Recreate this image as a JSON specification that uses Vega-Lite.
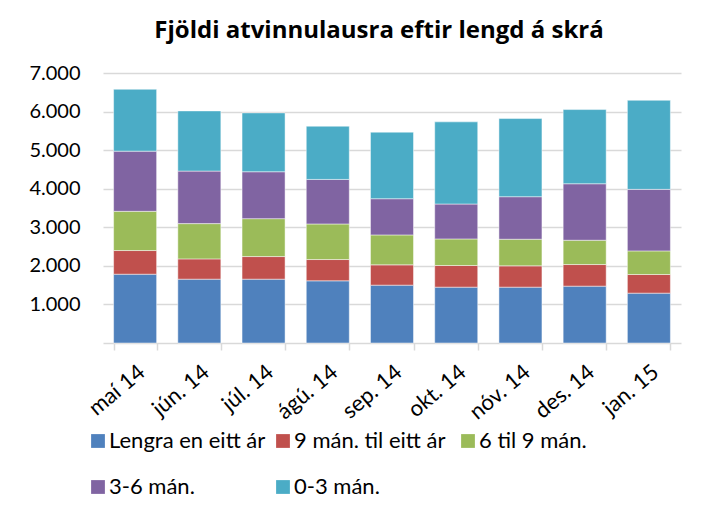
{
  "$schema": "https://vega.github.io/schema/vega-lite/v6.json",
  "width": 578,
  "height": 270,
  "autosize": {"type": "none"},
  "padding": {"left": 103, "top": 73, "right": 31, "bottom": 173},
  "background": "#ffffff",
  "config": {
    "font": "Lato",
    "view": {"stroke": null},
    "locale": {"number": {"decimal": ",", "thousands": ".", "grouping": [3], "currency": ["", " kr."]}}
  },
  "title": {
    "text": "Fjöldi atvinnulausra eftir lengd á skrá",
    "font": "Open Sans",
    "fontSize": 24,
    "fontWeight": "bold",
    "color": "#000000",
    "anchor": "middle",
    "dx": -13,
    "baseline": "alphabetic",
    "offset": 1
  },
  "data": {
    "values": [
      {"month": "maí 14", "cat": "Lengra en eitt ár", "o": 1, "value": 1784},
      {"month": "maí 14", "cat": "9 mán. til eitt ár", "o": 2, "value": 613},
      {"month": "maí 14", "cat": "6 til 9 mán.", "o": 3, "value": 1017},
      {"month": "maí 14", "cat": "3-6 mán.", "o": 4, "value": 1560},
      {"month": "maí 14", "cat": "0-3 mán.", "o": 5, "value": 1604},
      {"month": "jún. 14", "cat": "Lengra en eitt ár", "o": 1, "value": 1655},
      {"month": "jún. 14", "cat": "9 mán. til eitt ár", "o": 2, "value": 526},
      {"month": "jún. 14", "cat": "6 til 9 mán.", "o": 3, "value": 914},
      {"month": "jún. 14", "cat": "3-6 mán.", "o": 4, "value": 1362},
      {"month": "jún. 14", "cat": "0-3 mán.", "o": 5, "value": 1560},
      {"month": "júl. 14", "cat": "Lengra en eitt ár", "o": 1, "value": 1655},
      {"month": "júl. 14", "cat": "9 mán. til eitt ár", "o": 2, "value": 586},
      {"month": "júl. 14", "cat": "6 til 9 mán.", "o": 3, "value": 983},
      {"month": "júl. 14", "cat": "3-6 mán.", "o": 4, "value": 1216},
      {"month": "júl. 14", "cat": "0-3 mán.", "o": 5, "value": 1526},
      {"month": "ágú. 14", "cat": "Lengra en eitt ár", "o": 1, "value": 1612},
      {"month": "ágú. 14", "cat": "9 mán. til eitt ár", "o": 2, "value": 552},
      {"month": "ágú. 14", "cat": "6 til 9 mán.", "o": 3, "value": 922},
      {"month": "ágú. 14", "cat": "3-6 mán.", "o": 4, "value": 1155},
      {"month": "ágú. 14", "cat": "0-3 mán.", "o": 5, "value": 1380},
      {"month": "sep. 14", "cat": "Lengra en eitt ár", "o": 1, "value": 1500},
      {"month": "sep. 14", "cat": "9 mán. til eitt ár", "o": 2, "value": 526},
      {"month": "sep. 14", "cat": "6 til 9 mán.", "o": 3, "value": 776},
      {"month": "sep. 14", "cat": "3-6 mán.", "o": 4, "value": 939},
      {"month": "sep. 14", "cat": "0-3 mán.", "o": 5, "value": 1725},
      {"month": "okt. 14", "cat": "Lengra en eitt ár", "o": 1, "value": 1448},
      {"month": "okt. 14", "cat": "9 mán. til eitt ár", "o": 2, "value": 561},
      {"month": "okt. 14", "cat": "6 til 9 mán.", "o": 3, "value": 689},
      {"month": "okt. 14", "cat": "3-6 mán.", "o": 4, "value": 905},
      {"month": "okt. 14", "cat": "0-3 mán.", "o": 5, "value": 2130},
      {"month": "nóv. 14", "cat": "Lengra en eitt ár", "o": 1, "value": 1448},
      {"month": "nóv. 14", "cat": "9 mán. til eitt ár", "o": 2, "value": 552},
      {"month": "nóv. 14", "cat": "6 til 9 mán.", "o": 3, "value": 690},
      {"month": "nóv. 14", "cat": "3-6 mán.", "o": 4, "value": 1103},
      {"month": "nóv. 14", "cat": "0-3 mán.", "o": 5, "value": 2026},
      {"month": "des. 14", "cat": "Lengra en eitt ár", "o": 1, "value": 1474},
      {"month": "des. 14", "cat": "9 mán. til eitt ár", "o": 2, "value": 560},
      {"month": "des. 14", "cat": "6 til 9 mán.", "o": 3, "value": 630},
      {"month": "des. 14", "cat": "3-6 mán.", "o": 4, "value": 1465},
      {"month": "des. 14", "cat": "0-3 mán.", "o": 5, "value": 1923},
      {"month": "jan. 15", "cat": "Lengra en eitt ár", "o": 1, "value": 1293},
      {"month": "jan. 15", "cat": "9 mán. til eitt ár", "o": 2, "value": 483},
      {"month": "jan. 15", "cat": "6 til 9 mán.", "o": 3, "value": 612},
      {"month": "jan. 15", "cat": "3-6 mán.", "o": 4, "value": 1595},
      {"month": "jan. 15", "cat": "0-3 mán.", "o": 5, "value": 2310}
    ]
  },
  "mark": {"type": "bar", "stroke": "#ffffff", "strokeOpacity": 0.6, "strokeWidth": 0.8},
  "encoding": {
    "x": {
      "field": "month",
      "type": "nominal",
      "sort": null,
      "scale": {"paddingInner": 0.33, "paddingOuter": 0.165},
      "axis": {
        "title": null,
        "labelAngle": -40,
        "labelFont": "Lato",
        "labelFontSize": 22,
        "labelColor": "#000000",
        "labelPadding": 11,
        "labelDx": -4,
        "tickBand": "extent",
        "tickSize": 7,
        "tickColor": "#d9d9d9",
        "tickWidth": 1.5,
        "domainColor": "#d9d9d9",
        "domainWidth": 1.5,
        "grid": false
      }
    },
    "y": {
      "field": "value",
      "type": "quantitative",
      "aggregate": "sum",
      "stack": "zero",
      "scale": {"domain": [0, 7000], "nice": false},
      "axis": {
        "title": null,
        "values": [1000, 2000, 3000, 4000, 5000, 6000, 7000],
        "format": ",d",
        "labelFont": "Lato",
        "labelFontSize": 20,
        "labelColor": "#000000",
        "labelPadding": 23,
        "domain": false,
        "ticks": false,
        "gridColor": "#d9d9d9",
        "gridWidth": 1.5
      }
    },
    "color": {
      "field": "cat",
      "type": "nominal",
      "scale": {
        "domain": ["Lengra en eitt ár", "9 mán. til eitt ár", "6 til 9 mán.", "3-6 mán.", "0-3 mán."],
        "range": ["#4f81bd", "#c0504d", "#9bbb59", "#8064a2", "#4bacc6"]
      },
      "legend": {
        "title": null,
        "orient": "none",
        "legendX": -16,
        "legendY": 357,
        "direction": "horizontal",
        "columns": 3,
        "gridAlign": "all",
        "symbolType": "square",
        "symbolSize": 190,
        "symbolStrokeWidth": 0,
        "symbolOpacity": 1,
        "labelFont": "Lato",
        "labelFontSize": 22,
        "labelColor": "#000000",
        "labelOffset": 0,
        "labelLimit": 300,
        "columnPadding": 6,
        "rowPadding": 24
      }
    },
    "order": {"field": "o", "type": "quantitative"}
  }
}
